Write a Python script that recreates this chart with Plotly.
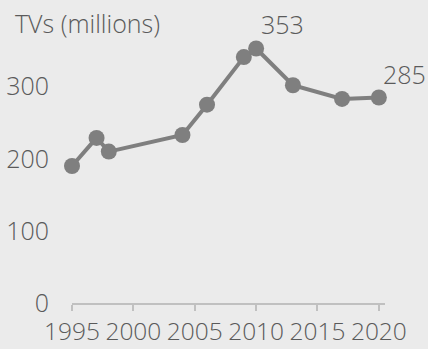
import plotly.graph_objects as go

years = [1995, 1997, 1998, 2004, 2006, 2009, 2010, 2013, 2017, 2020]
tvs = [190, 229, 210, 233, 275, 341, 353, 302, 283, 285]
x_ticks = [1995, 2000, 2005, 2010, 2015, 2020]
y_ticks = [0, 100, 200, 300]
labelled = {2010: "353", 2020: "285"}

FONT = "Open Sans"
TXT = "#5a5a5a"
GREY = "#7f7f7f"
FS = 25

fig = go.Figure()
fig.add_trace(go.Scatter(
    x=years, y=tvs, mode="lines+markers",
    line=dict(color=GREY, width=4),
    marker=dict(color=GREY, size=16),
    hoverinfo="skip", cliponaxis=False,
))

for yr, val in zip(years, tvs):
    if yr in labelled:
        fig.add_annotation(x=yr, y=val, text=labelled[yr], showarrow=False,
                           xshift=26, yshift=24,
                           font=dict(family=FONT, size=FS, color=TXT, weight=300))

fig.add_annotation(text="TVs (millions)", xref="paper", yref="paper",
                   x=0.0, y=1.0, showarrow=False, xanchor="left", yanchor="bottom",
                   font=dict(family=FONT, size=FS, color=TXT, weight=300),
                   xshift=-59, yshift=-13)

fig.update_layout(
    width=428, height=349,
    margin=dict(l=72, r=43, t=29, b=46, autoexpand=False),
    paper_bgcolor="#ebebeb", plot_bgcolor="#ebebeb",
    showlegend=False,
    font=dict(family=FONT, size=FS, color=TXT),
    xaxis=dict(range=[1995, 2020.5], tickvals=x_ticks, ticktext=[str(t) for t in x_ticks],
               showgrid=False, zeroline=False, showline=True, linecolor="#c0c0c0",
               linewidth=2, ticks="outside", ticklen=6, tickcolor="#c0c0c0", tickwidth=2,
               automargin=False, ticklabelstandoff=0,
               tickfont=dict(family=FONT, size=24.5, color=TXT, weight=300)),
    yaxis=dict(range=[0, 380], tickvals=y_ticks, showgrid=False, zeroline=False,
               showline=False, ticks="", ticklabelstandoff=22, automargin=False,
               tickfont=dict(family=FONT, size=FS, color=TXT, weight=300)),
)

fig.write_html("out.html")
